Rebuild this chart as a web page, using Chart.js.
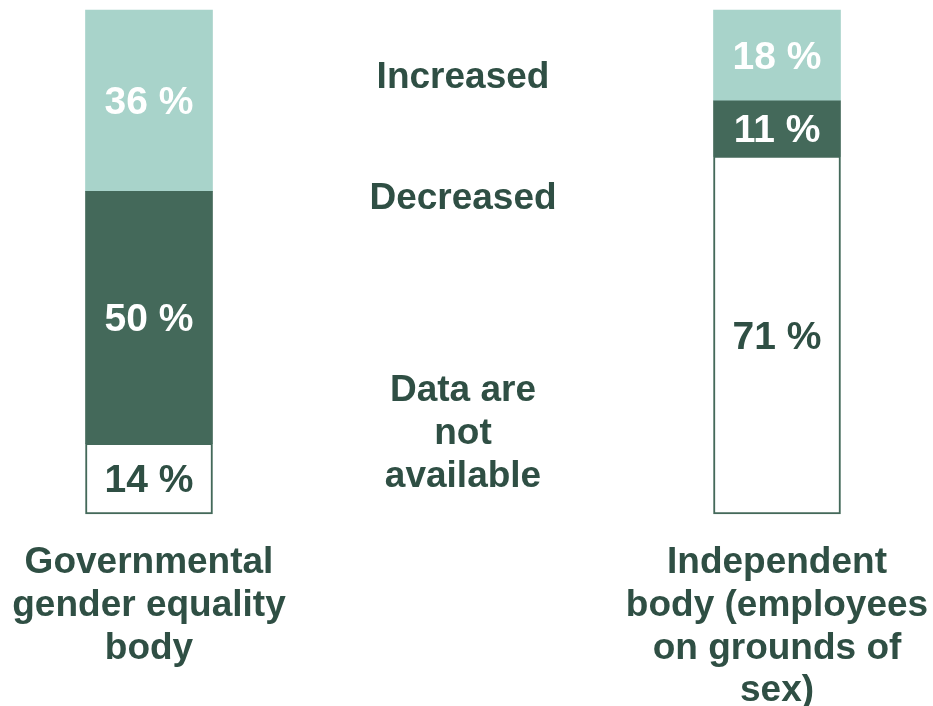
<!DOCTYPE html>
<html>
<head>
<meta charset="utf-8">
<script src="https://cdn.jsdelivr.net/npm/chart.js@4"></script>
<style>
  html, body { margin: 0; padding: 0; background: #fff; }
  .chart-box { width: 933px; height: 706px; }
</style>
</head>
<body>
<div class="chart-box"><canvas id="myChart"></canvas></div>
<script>
const bodies = [
    ["Governmental", "gender equality", "body"],
    ["Independent", "body (employees", "on grounds of", "sex)"],
];
const notAvailable = [14, 71];
const decreased = [50, 11];
const increased = [36, 18];

const LIGHT = "#a8d3ca";
const DARK = "#44695a";
const TEXT = "#2f4f44";
const FONT = "'Liberation Sans', Arial, sans-serif";

// series names written between the two bars, anchored on the y scale
const seriesNotes = [
    { lines: ["Increased"], value: 87.1 },
    { lines: ["Decreased"], value: 63.1 },
    { lines: ["Data are", "not", "available"], value: 16.5 },
];

const valueLabels = {
    id: "valueLabels",
    afterDatasetsDraw(chart) {
        const ctx = chart.ctx;
        ctx.save();
        ctx.textAlign = "center";
        ctx.textBaseline = "middle";
        ctx.font = `bold 39px ${FONT}`;
        chart.data.datasets.forEach((dataset, i) => {
            chart.getDatasetMeta(i).data.forEach((bar, j) => {
                const y = (bar.y + bar.base) / 2;
                ctx.fillStyle = dataset.labelColor;
                ctx.fillText(`${dataset.data[j]} %`, bar.x, y + 3);
            });
        });

        const xScale = chart.scales.x;
        const yScale = chart.scales.y;
        const midX = (xScale.getPixelForValue(0) + xScale.getPixelForValue(1)) / 2;
        const lineHeight = 43;
        ctx.font = `bold 37px ${FONT}`;
        ctx.fillStyle = TEXT;
        seriesNotes.forEach((note) => {
            const center = yScale.getPixelForValue(note.value);
            const start = center - ((note.lines.length - 1) * lineHeight) / 2;
            note.lines.forEach((line, k) => {
                ctx.fillText(line, midX, start + k * lineHeight + 3);
            });
        });
        ctx.restore();
    },
};

function buildChart() {
    const config = {
        type: "bar",
        data: {
            labels: bodies,
            datasets: [
                {
                    label: "Data are not available",
                    data: notAvailable,
                    backgroundColor: "#ffffff",
                    borderColor: DARK,
                    borderWidth: 2,
                    borderSkipped: false,
                    labelColor: TEXT,
                },
                {
                    label: "Decreased",
                    data: decreased,
                    backgroundColor: DARK,
                    borderWidth: 0,
                    labelColor: "#ffffff",
                },
                {
                    label: "Increased",
                    data: increased,
                    backgroundColor: LIGHT,
                    borderWidth: 0,
                    labelColor: "#ffffff",
                },
            ],
        },
        options: {
            responsive: true,
            maintainAspectRatio: false,
            animation: false,
            clip: false,
            barThickness: 127,
            layout: {
                padding: { top: 10, left: 149, right: 156, bottom: 0 },
            },
            plugins: {
                legend: { display: false },
                tooltip: { enabled: false },
            },
            scales: {
                x: {
                    stacked: true,
                    offset: false,
                    grid: { display: false, drawTicks: false },
                    border: { display: false },
                    ticks: {
                        color: TEXT,
                        font: { family: FONT, size: 37, weight: "bold", lineHeight: 1.15 },
                        padding: 28,
                        maxRotation: 0,
                        minRotation: 0,
                        autoSkip: false,
                    },
                    afterFit(scale) {
                        // keep the bars where the layout padding puts them
                        scale.height = 192;
                        scale.paddingLeft = 0;
                        scale.paddingRight = 0;
                    },
                },
                y: {
                    stacked: true,
                    display: false,
                    min: 0,
                    max: 100,
                },
            },
        },
        plugins: [valueLabels],
    };

    const ctx = document.getElementById("myChart").getContext("2d");
    return new Chart(ctx, config);
}

buildChart();
</script>
</body>
</html>
